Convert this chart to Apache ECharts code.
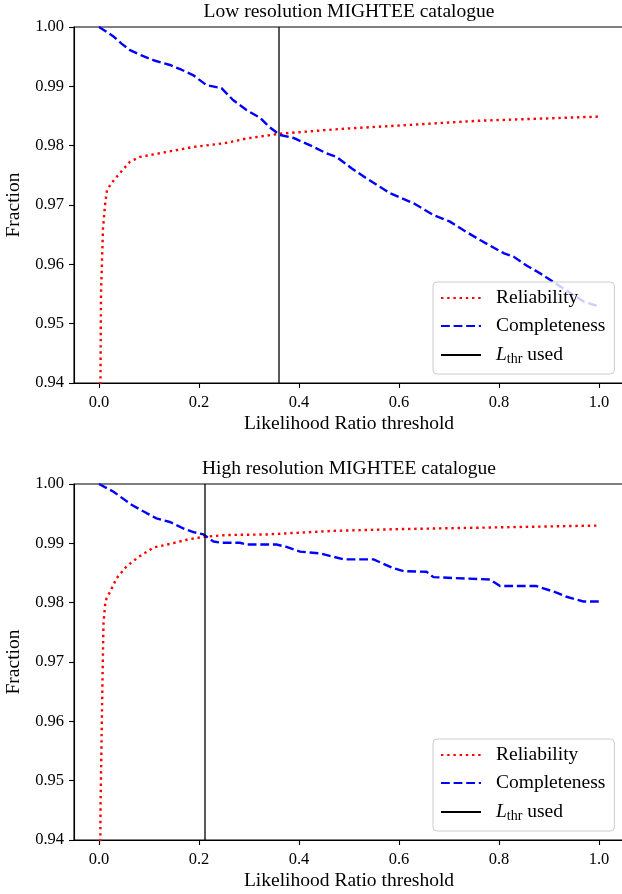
<!DOCTYPE html>
<html>
<head>
<meta charset="utf-8">
<script src="https://cdn.jsdelivr.net/npm/echarts@6/dist/echarts.min.js"></script>
<style>html,body{margin:0;padding:0;background:#fff;}#c{width:622px;height:894px;}</style>
</head>
<body>
<div id="c"></div>
<script>
// ---- data ----
const titles = ['Low resolution MIGHTEE catalogue', 'High resolution MIGHTEE catalogue'];
const xTickValues = [0, 0.2, 0.4, 0.6, 0.8, 1.0];
const yTickValues = [0.94, 0.95, 0.96, 0.97, 0.98, 0.99, 1.00];
const thresholdsUsed = [0.36, 0.212];

// Low resolution catalogue
const lowRelX = [0.000, 0.004, 0.008, 0.012, 0.016, 0.025, 0.042, 0.062, 0.082, 0.12, 0.19, 0.25, 0.295, 0.36, 0.48, 0.56, 0.76, 1.0];
const lowRelY = [0.900, 0.955, 0.966, 0.970, 0.9725, 0.9737, 0.9754, 0.9773, 0.9781, 0.9787, 0.9798, 0.9804, 0.9812, 0.9820, 0.9828, 0.9832, 0.9842, 0.9849];
const lowCompX = [0, 0.015, 0.029, 0.045, 0.062, 0.085, 0.109, 0.142, 0.165, 0.188, 0.215, 0.245, 0.268, 0.295, 0.322, 0.34, 0.362, 0.389, 0.429, 0.455, 0.475, 0.505, 0.535, 0.582, 0.629, 0.669, 0.702, 0.73, 0.762, 0.809, 0.829, 0.855, 0.882, 0.902, 0.942, 0.97, 1.0];
const lowCompY = [1.0, 0.9992, 0.9984, 0.9972, 0.9961, 0.9952, 0.9944, 0.9936, 0.9928, 0.9919, 0.9902, 0.9897, 0.9877, 0.9860, 0.9847, 0.9832, 0.9818, 0.9813, 0.9798, 0.9787, 0.9781, 0.9762, 0.9745, 0.9720, 0.9703, 0.9683, 0.9672, 0.9657, 0.9641, 0.9619, 0.9613, 0.9598, 0.9585, 0.9574, 0.9552, 0.9537, 0.9529];

// High resolution catalogue
const highRelX = [0.000, 0.003, 0.006, 0.008, 0.009, 0.012, 0.015, 0.022, 0.035, 0.055, 0.079, 0.109, 0.142, 0.175, 0.209, 0.255, 0.335, 0.469, 0.602, 0.735, 0.869, 1.0];
const highRelY = [0.900, 0.945, 0.962, 0.972, 0.9765, 0.9795, 0.9807, 0.9818, 0.9841, 0.9861, 0.9877, 0.9893, 0.9899, 0.9906, 0.9911, 0.9914, 0.9915, 0.9921, 0.9924, 0.9926, 0.9928, 0.9930];
const highCompX = [0, 0.029, 0.065, 0.095, 0.115, 0.142, 0.169, 0.189, 0.209, 0.229, 0.245, 0.282, 0.295, 0.355, 0.375, 0.402, 0.442, 0.489, 0.549, 0.589, 0.609, 0.655, 0.669, 0.782, 0.802, 0.875, 0.915, 0.935, 0.969, 1.0];
const highCompY = [1.0, 0.9987, 0.9965, 0.9951, 0.9942, 0.9936, 0.9925, 0.9919, 0.9915, 0.9903, 0.9901, 0.9901, 0.9898, 0.9898, 0.9894, 0.9886, 0.9883, 0.9873, 0.9873, 0.9858, 0.9853, 0.9852, 0.9843, 0.9839, 0.9828, 0.9828, 0.9817, 0.9810, 0.9802, 0.9802];

const yRange = [0.94, 1.00];
const xRange = [-0.05, 1.05];

// ---- build chart ----
const FONT = 'Liberation Serif';
const zip = (xs, ys) => xs.map((x, i) => [x, ys[i]]);
const gridTops = [27, 484];
const plotH = 356;

const option = {
  animation: false,
  backgroundColor: '#fff',
  textStyle: { fontFamily: FONT },
  title: titles.map((t, i) => ({
    text: t, left: 349, textAlign: 'center', top: gridTops[i] - 27, padding: [2, 0, 0, 0],
    textStyle: { fontFamily: FONT, fontSize: 19.5, fontWeight: 'normal', color: '#000' }
  })),
  grid: gridTops.map(t => ({ left: 74, right: -2, top: t, height: plotH, show: true, borderColor: '#000', borderWidth: 1.1, backgroundColor: 'transparent', containLabel: false, outerBoundsMode: 'none' })),
  xAxis: gridTops.map((t, i) => ({
    type: 'value', gridIndex: i, min: xRange[0], max: xRange[1],
    name: 'Likelihood Ratio threshold', nameLocation: 'middle', nameGap: 31,
    nameTextStyle: { fontFamily: FONT, fontSize: 19.5, color: '#000' },
    axisLine: { show: true, onZero: false, lineStyle: { color: '#000', width: 1.1 } },
    axisTick: { show: true, inside: false, length: 5, customValues: xTickValues, lineStyle: { color: '#000', width: 1.1 } },
    axisLabel: { show: true, customValues: xTickValues, margin: 11, fontFamily: FONT, fontSize: 16.5, color: '#000', formatter: v => v.toFixed(1) },
    splitLine: { show: false }
  })),
  yAxis: gridTops.map((t, i) => ({
    type: 'value', gridIndex: i, min: yRange[0], max: yRange[1],
    name: 'Fraction', nameLocation: 'middle', nameGap: 49,
    nameTextStyle: { fontFamily: FONT, fontSize: 19.5, color: '#000' },
    axisLine: { show: true, onZero: false, lineStyle: { color: '#000', width: 1.1 } },
    axisTick: { show: true, inside: false, length: 5, customValues: yTickValues, lineStyle: { color: '#000', width: 1.1 } },
    axisLabel: { show: true, customValues: yTickValues, margin: 10, fontFamily: FONT, fontSize: 16.5, color: '#000', formatter: v => v.toFixed(2) },
    splitLine: { show: false }
  })),
  legend: gridTops.map((t, i) => ({
    orient: 'vertical', left: 433, top: t + 255, 
    data: ['Reliability', 'Completeness', 'L_thr used'],
    itemWidth: 40, itemHeight: 14, itemGap: 8,
    padding: [6, 9, 8, 7],
    backgroundColor: 'rgba(255,255,255,0.8)', borderColor: '#cccccc', borderWidth: 1, borderRadius: 4,
    itemStyle: { opacity: 0 },
    formatter: name => name === 'L_thr used' ? '{it|L}{sub|thr}{n| used}' : '{n|' + name + '}',
    textStyle: {
      fontFamily: FONT, fontSize: 19.5, color: '#000', lineHeight: 20, padding: [0, 0, 0, 10],
      rich: {
        n: { fontFamily: FONT, fontSize: 19.5, color: '#000', lineHeight: 20 },
        it: { fontFamily: FONT, fontSize: 19.5, fontStyle: 'italic', color: '#000', lineHeight: 20 },
        sub: { fontFamily: FONT, fontSize: 14, color: '#000', lineHeight: 20, padding: [8, 0, 0, 0] }
      }
    }
  })),
  series: []
};

const sets = [
  { rel: zip(lowRelX, lowRelY), comp: zip(lowCompX, lowCompY) },
  { rel: zip(highRelX, highRelY), comp: zip(highCompX, highCompY) }
];
sets.forEach((s, i) => {
  option.series.push({
    name: 'Reliability', type: 'line', xAxisIndex: i, yAxisIndex: i, data: s.rel,
    symbol: 'none', showSymbol: false, clip: true,
    lineStyle: { color: '#ff0000', width: 2.4, type: [2.4, 3.8], cap: 'butt' }, itemStyle: { color: '#ff0000' }
  });
  option.series.push({
    name: 'Completeness', type: 'line', xAxisIndex: i, yAxisIndex: i, data: s.comp,
    symbol: 'none', showSymbol: false, clip: true,
    lineStyle: { color: '#0000ff', width: 2.4, type: [8.8, 3.8], cap: 'butt' }, itemStyle: { color: '#0000ff' }
  });
  option.series.push({
    name: 'L_thr used', type: 'line', xAxisIndex: i, yAxisIndex: i,
    data: [[thresholdsUsed[i], yRange[0]], [thresholdsUsed[i], yRange[1]]],
    symbol: 'none', showSymbol: false, clip: true,
    lineStyle: { color: '#000000', width: 1.3, type: 'solid' }, itemStyle: { color: '#000000' }
  });
});

const chart = echarts.init(document.getElementById('c'), null, { renderer: 'canvas' });
chart.setOption(option);
</script>
</body>
</html>
